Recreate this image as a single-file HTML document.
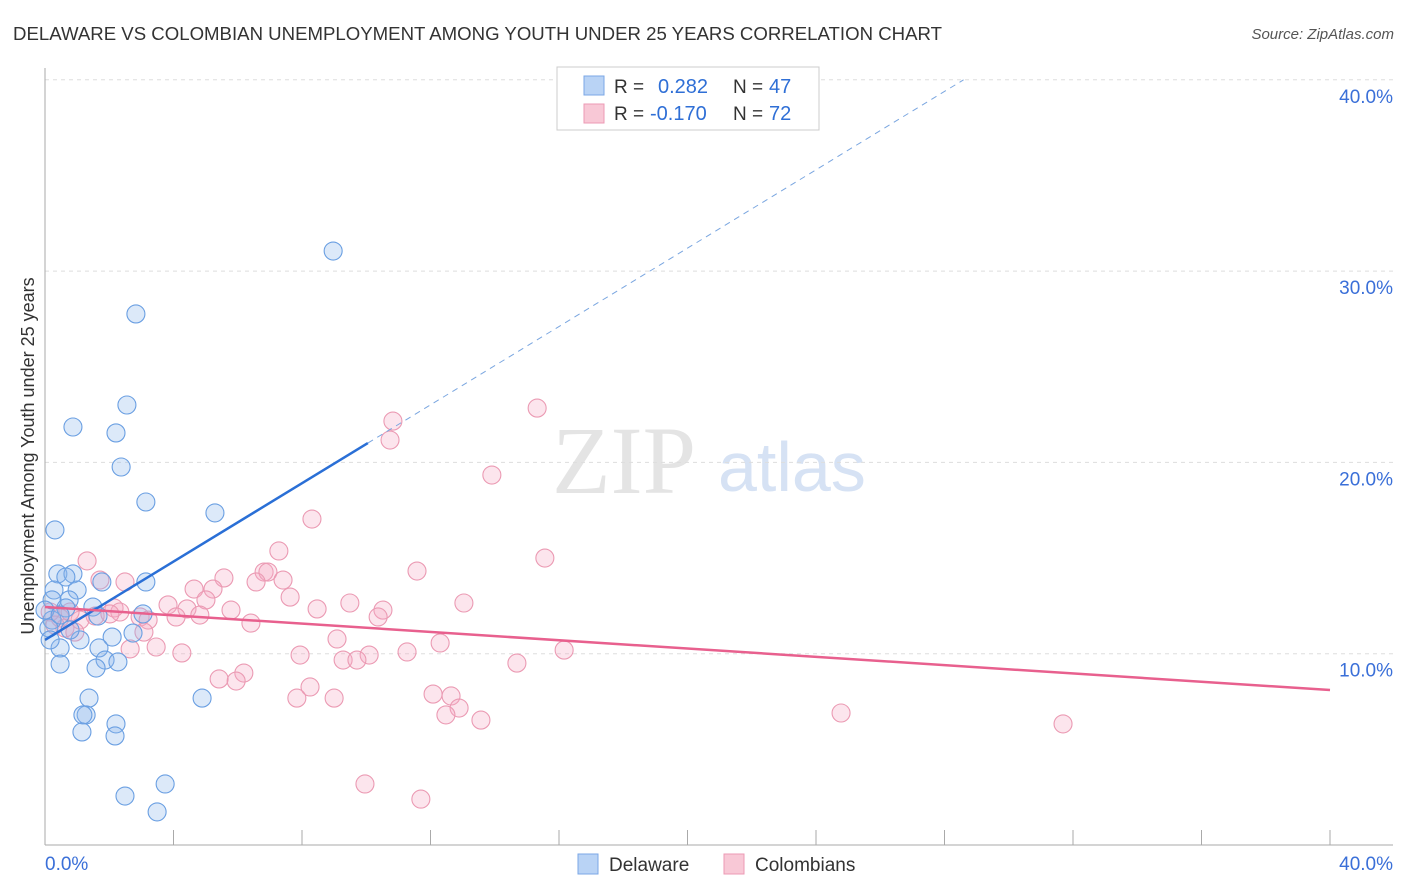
<!DOCTYPE html>
<html><head><meta charset="utf-8"><style>
body{margin:0;background:#fff;font-family:"Liberation Sans",sans-serif}
svg{display:block}
</style></head><body>
<svg width="1406" height="892" viewBox="0 0 1406 892" xmlns="http://www.w3.org/2000/svg" font-family="Liberation Sans, sans-serif">
<text x="13" y="40" font-size="18.5" fill="#333" textLength="929" lengthAdjust="spacingAndGlyphs">DELAWARE VS COLOMBIAN UNEMPLOYMENT AMONG YOUTH UNDER 25 YEARS CORRELATION CHART</text>
<text x="1394" y="39" font-size="15" fill="#555" text-anchor="end" font-style="italic">Source: ZipAtlas.com</text>
<g>
<text x="552" y="493" font-size="96" font-family="Liberation Serif, serif" fill="#e4e4e4">ZIP</text>
<text x="718" y="491" font-size="70" fill="#d6e2f4">atlas</text>
</g>
<g id="grid"></g>
<g id="axes"></g>
<g id="marks"></g>
<text transform="translate(34,456) rotate(-90)" font-size="18" fill="#333" text-anchor="middle">Unemployment Among Youth under 25 years</text>
<g>
<rect x="557" y="67" width="262" height="63" fill="#fff" stroke="#ccc"/>
<rect x="584" y="76" width="20" height="19" fill="#b9d3f5" stroke="#7ba7e6"/>
<rect x="584" y="104" width="20" height="19" fill="#f8c8d6" stroke="#ec9ab4"/>
<text x="614" y="93" font-size="19" fill="#333">R =</text>
<text x="658" y="93" font-size="20" fill="#2f6fd6">0.282</text>
<text x="733" y="93" font-size="19" fill="#333">N =</text>
<text x="769" y="93" font-size="20" fill="#2f6fd6">47</text>
<text x="614" y="120" font-size="19" fill="#333">R =</text>
<text x="650" y="120" font-size="20" fill="#2f6fd6">-0.170</text>
<text x="733" y="120" font-size="19" fill="#333">N =</text>
<text x="769" y="120" font-size="20" fill="#2f6fd6">72</text>
</g>
<g>
<rect x="578" y="854" width="20" height="20" fill="#b9d3f5" stroke="#7ba7e6"/>
<text x="609" y="871" font-size="19" fill="#333">Delaware</text>
<rect x="724" y="854" width="20" height="20" fill="#f8c8d6" stroke="#ec9ab4"/>
<text x="755" y="871" font-size="19" fill="#333">Colombians</text>
</g>
</svg>
<script>
const yTicks=[10,20,30,40];
const yTickLabels=["10.0%","20.0%","30.0%","40.0%"];
const xTickLabels=["0.0%","40.0%"];
const delX=[8.97,2.83,2.55,0.87,2.21,2.37,3.14,5.29,0.31,0.40,0.87,0.65,3.14,1.77,1.00,0.28,0.75,0.22,1.49,0.65,3.05,1.65,0.22,0.12,2.74,2.09,1.09,0.47,1.68,1.87,2.27,1.59,0.47,4.89,1.37,1.28,1.18,2.21,1.15,2.18,3.74,2.49,3.49,0,0.16,0.47,0.78];
const delY=[31.05,27.76,23.0,21.85,21.54,19.76,17.93,17.36,16.47,14.17,14.17,14.01,13.75,13.75,13.33,13.33,12.81,12.81,12.44,12.39,12.08,11.97,11.76,11.34,11.08,10.87,10.72,10.30,10.30,9.67,9.57,9.25,9.46,7.68,7.68,6.80,6.80,6.33,5.91,5.70,3.19,2.56,1.73,12.28,10.72,12.02,11.24];
const colX=[10.83,15.32,10.74,13.91,8.31,15.56,1.31,7.28,6.82,6.94,11.58,5.57,1.71,2.49,6.57,7.41,4.64,5.23,7.63,5.01,3.83,9.49,13.04,4.42,8.47,2.15,5.79,10.52,2.33,10.37,4.08,4.82,2.96,3.21,1.56,1.09,6.41,0.47,0.62,3.08,0.93,9.09,12.30,3.46,2.65,4.26,7.94,11.27,10.09,9.28,9.71,14.69,16.16,6.19,5.42,5.95,8.25,12.08,7.84,9.00,12.64,12.89,12.48,13.57,24.78,31.69,9.96,11.70,0.16,0.31,0.78,2.02];
const colY=[22.16,22.84,21.17,19.34,17.04,15.00,14.85,15.37,14.27,14.27,14.32,13.96,13.85,13.75,13.75,13.85,13.38,13.38,12.96,12.81,12.55,12.65,12.65,12.34,12.34,12.39,12.28,12.28,12.18,11.92,11.92,12.02,11.92,11.76,11.97,11.76,11.60,11.87,11.34,11.13,11.13,10.77,10.56,10.35,10.25,10.04,9.93,10.09,9.93,9.67,9.67,9.51,10.19,8.99,8.68,8.57,8.26,7.89,7.68,7.68,7.79,7.16,6.80,6.53,6.90,6.33,3.19,2.40,12.18,11.50,12.18,12.08];
const delTrend=[10.72,1.024,10.05]; // intercept, slope, solid end x
const colTrend=[12.44,-0.1085];
const NS="http://www.w3.org/2000/svg";
const X=v=>45+v*32.125, Y=v=>845-v*19.13;
function mk(p,t,a){const e=document.createElementNS(NS,t);for(const k in a)e.setAttribute(k,a[k]);p.appendChild(e);return e;}
const grid=document.getElementById('grid'),axes=document.getElementById('axes'),marks=document.getElementById('marks');
yTicks.forEach((t,i)=>{
 const l=mk(grid,'line',{x1:45,x2:1393,y1:Y(t),y2:Y(t),stroke:'#ddd','stroke-dasharray':'4,4'});
 
 
 const tx=mk(axes,'text',{x:1393,y:Y(t)+23,'text-anchor':'end','font-size':19,fill:'#3a6fd8'});
 tx.textContent=yTickLabels[i];
 
 
});
mk(axes,'line',{x1:45,x2:45,y1:68,y2:845,stroke:'#aaa'});
mk(axes,'line',{x1:45,x2:1393,y1:845,y2:845,stroke:'#aaa'});
for(let i=1;i<=10;i++){const t=mk(axes,'line',{x1:X(i*4),x2:X(i*4),y1:830,y2:845,stroke:'#aaa'});
 
 }
[[0,'start',45],[40,'end',1393]].forEach((d,i)=>{const tx=mk(axes,'text',{x:d[2],y:870,'text-anchor':d[1],'font-size':19,fill:'#3a6fd8'});tx.textContent=xTickLabels[i];
 
 });
function dots(xs,ys,fill,stroke,name){xs.forEach((x,i)=>{const c=mk(marks,'circle',{cx:X(x),cy:Y(ys[i]),r:9,fill:fill,stroke:stroke,'stroke-width':1.1});
 
 });}
dots(colX,colY,'rgba(244,170,195,0.3)','#eb9ab3','colombians-point');
dots(delX,delY,'rgba(140,182,236,0.3)','#6a9fe2','delaware-point');
const xe=(40-delTrend[0])/delTrend[1];
const d1=mk(marks,'line',{x1:X(0),y1:Y(delTrend[0]),x2:X(delTrend[2]),y2:Y(delTrend[0]+delTrend[1]*delTrend[2]),stroke:'#2a6fd6','stroke-width':2.5});


const d2=mk(marks,'line',{x1:X(delTrend[2]),y1:Y(delTrend[0]+delTrend[1]*delTrend[2]),x2:X(xe),y2:Y(40),stroke:'#7aa6e0','stroke-width':1,'stroke-dasharray':'6,5'});


const c1=mk(marks,'line',{x1:X(0),y1:Y(colTrend[0]),x2:X(40),y2:Y(colTrend[0]+colTrend[1]*40),stroke:'#e8608e','stroke-width':2.5});


</script>
</body></html>
